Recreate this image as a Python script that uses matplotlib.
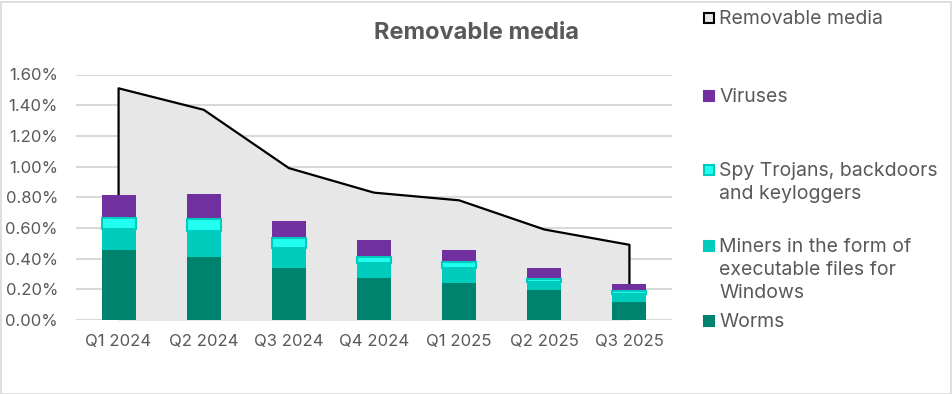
import numpy as np
import matplotlib.pyplot as plt
from matplotlib.patches import Rectangle
from matplotlib.ticker import FuncFormatter

plt.rcParams['font.family'] = ['Inter', 'DejaVu Sans']

quarters = ["Q1 2024", "Q2 2024", "Q3 2024", "Q4 2024", "Q1 2025", "Q2 2025", "Q3 2025"]
removable_media = [1.51, 1.37, 0.99, 0.83, 0.78, 0.59, 0.49]
worms = [0.455, 0.41, 0.34, 0.275, 0.242, 0.196, 0.118]
miners = [0.135, 0.17, 0.13, 0.095, 0.10, 0.05, 0.05]
spy_trojans = [0.075, 0.08, 0.065, 0.04, 0.035, 0.02, 0.02]
viruses = [0.15, 0.16, 0.11, 0.11, 0.08, 0.075, 0.045]

grey_text = '#595959'
c_worms = '#00836E'
c_miners = '#00CCBE'
c_spy = '#22FFF0'
c_viruses = '#7030A0'
c_area = '#E7E7E7'

fig = plt.figure(figsize=(9.52, 3.94), dpi=100)
ax = fig.add_axes([76 / 952, 1 - 320 / 394, 596 / 952, 245.5 / 394])

x = np.arange(len(quarters))
ax.fill_between(x, 0, removable_media, color=c_area, zorder=1)
ax.plot(np.r_[x[0], x, x[-1]], np.r_[0, removable_media, 0], color='black', lw=1.6, zorder=2)

w = 0.4
bottom = np.zeros(len(x))
ax.bar(x, worms, w, bottom=bottom, color=c_worms, zorder=3)
bottom += worms
ax.bar(x, miners, w, bottom=bottom, color=c_miners, zorder=3)
bottom += miners
ax.bar(x, spy_trojans, w, bottom=bottom, color=c_spy, edgecolor=c_miners, linewidth=1.5, zorder=4)
bottom += spy_trojans
ax.bar(x, viruses, w, bottom=bottom, color=c_viruses, zorder=3)

ax.set_xlim(-0.5, len(x) - 0.5)
ax.set_ylim(0, 1.6)
ax.set_yticks(np.arange(0, 1.61, 0.2))
ax.yaxis.set_major_formatter(FuncFormatter(lambda v, p: f"{v:.2f}%"))
ax.set_xticks(x)
ax.set_xticklabels(quarters)
ax.grid(axis='y', color='#D9D9D9', lw=1.5, zorder=0)
ax.set_axisbelow(True)
for s in ax.spines.values():
    s.set_visible(False)
ax.tick_params(length=0, colors=grey_text, labelsize=12)
ax.tick_params(axis='x', pad=10)
ax.tick_params(axis='y', pad=13)
ax.set_facecolor('white')

fig.text(476 / 952, 1 - 33 / 394, "Removable media", ha='center', va='center',
         fontsize=17, fontweight='bold', color=grey_text)

# legend drawn by hand to keep Excel spacing
legend_items = [
    ("Removable media", c_area, 'black', 18),
    ("Viruses", c_viruses, c_viruses, 96),
    ("Spy Trojans, backdoors\nand keyloggers", c_spy, c_miners, 170),
    ("Miners in the form of\nexecutable files for\nWindows", c_miners, c_miners, 246),
    ("Worms", c_worms, c_worms, 321),
]
for label, face, edge, ymid in legend_items:
    fig.add_artist(Rectangle((704 / 952, 1 - (ymid + 5) / 394), 10 / 952, 10 / 394,
                             transform=fig.transFigure, facecolor=face, edgecolor=edge, lw=1.5))
    fig.text(719 / 952, 1 - (ymid - 8) / 394, label, ha='left', va='top',
             fontsize=14, color=grey_text, linespacing=1.35)

fig.add_artist(Rectangle((0.5 / 952, 0.5 / 394), 950 / 952, 392 / 394, transform=fig.transFigure,
                         fill=False, edgecolor='#D9D9D9', lw=1.2))

fig.savefig('out.png', dpi=100)
